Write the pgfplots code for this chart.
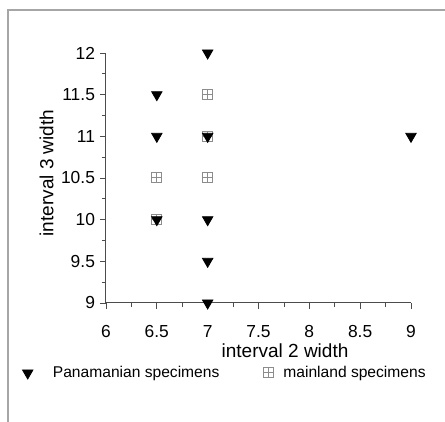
\documentclass[border=0pt]{standalone}
\usepackage{pgfplots}
\pgfplotsset{compat=1.18}
\usepackage{fontspec}
\setmainfont{Liberation Sans}

% square with a cross inside (boxed plus)
\pgfdeclareplotmark{sqplus}{%
  \pgfpathrectangle{\pgfpoint{-\pgfplotmarksize}{-\pgfplotmarksize}}{\pgfpoint{2\pgfplotmarksize}{2\pgfplotmarksize}}%
  \pgfpathmoveto{\pgfpoint{-\pgfplotmarksize}{0pt}}\pgfpathlineto{\pgfpoint{\pgfplotmarksize}{0pt}}%
  \pgfpathmoveto{\pgfpoint{0pt}{-\pgfplotmarksize}}\pgfpathlineto{\pgfpoint{0pt}{\pgfplotmarksize}}%
  \pgfusepathqstroke}

\begin{document}
\begin{tikzpicture}
\useasboundingbox (0,0) rectangle (222.5pt,211pt);
\draw[black!35, line width=0.6pt] (4pt,0) -- (4pt,206pt) -- (222.5pt,206pt);
\begin{axis}[
    at={(53pt,59.5pt)}, anchor=south west,
    scale only axis,
    width=152.5pt, height=125pt,
    xmin=6, xmax=9, ymin=9, ymax=12,
    xtick={6,6.5,...,9}, ytick={9,9.5,...,12},
    minor tick num=1,
    axis x line*=bottom, axis y line*=left,
    axis line style={black!70, line width=0.5pt, -},
    tick style={black!70, line width=0.4pt},
    major tick length=3pt, minor tick length=2pt,
    tick align=outside,
    minor tick style={/pgfplots/tick align=center},
    clip=false,
    /pgf/number format/assume math mode=true,
    ticklabel style={font=\fontsize{8.7}{10}\selectfont},
    xticklabel style={yshift=-4.5pt, /pgf/number format/.cd, fixed, precision=1},
    yticklabel style={xshift=1pt},
    label style={font=\fontsize{9.5}{11}\selectfont},
    xlabel={interval 2 width},
    ylabel={interval 3 width},
    xlabel style={at={(axis description cs:0.587,-0.16)}, anchor=north, inner sep=0pt},
    ylabel style={at={(axis description cs:-0.195,0.52)}, anchor=center, inner sep=0pt},
    legend columns=2,
    legend style={draw=none, fill=none, font=\fontsize{7.8}{9}\selectfont,
        at={(axis description cs:-0.275,-0.28)}, anchor=west, inner sep=0pt,
        /tikz/column 1/.style={column sep=8pt},
        /tikz/column 2/.style={column sep=20pt},
        /tikz/column 3/.style={column sep=3pt}},
]
% mainland drawn first so the triangles sit on top where they coincide
\addplot[only marks, mark=sqplus, mark size=2.5pt, black!45, line width=0.5pt, forget plot]
coordinates {
    (7,11.5) (6.5,10.5) (7,10.5) (7,11) (6.5,10)
};
\addplot[only marks, mark=triangle*, mark size=3pt, black, mark options={rotate=180, fill=black}]
coordinates {
    (6.5,11.5) (6.5,11) (6.5,10)
    (7,12) (7,11) (7,10) (7,9.5) (7,9)
    (9,11)
};
\addlegendentry{Panamanian specimens}
\addlegendimage{only marks, mark=sqplus, mark size=2.5pt, black!45, line width=0.5pt}
\addlegendentry{mainland specimens}
\end{axis}
\end{tikzpicture}
\end{document}
